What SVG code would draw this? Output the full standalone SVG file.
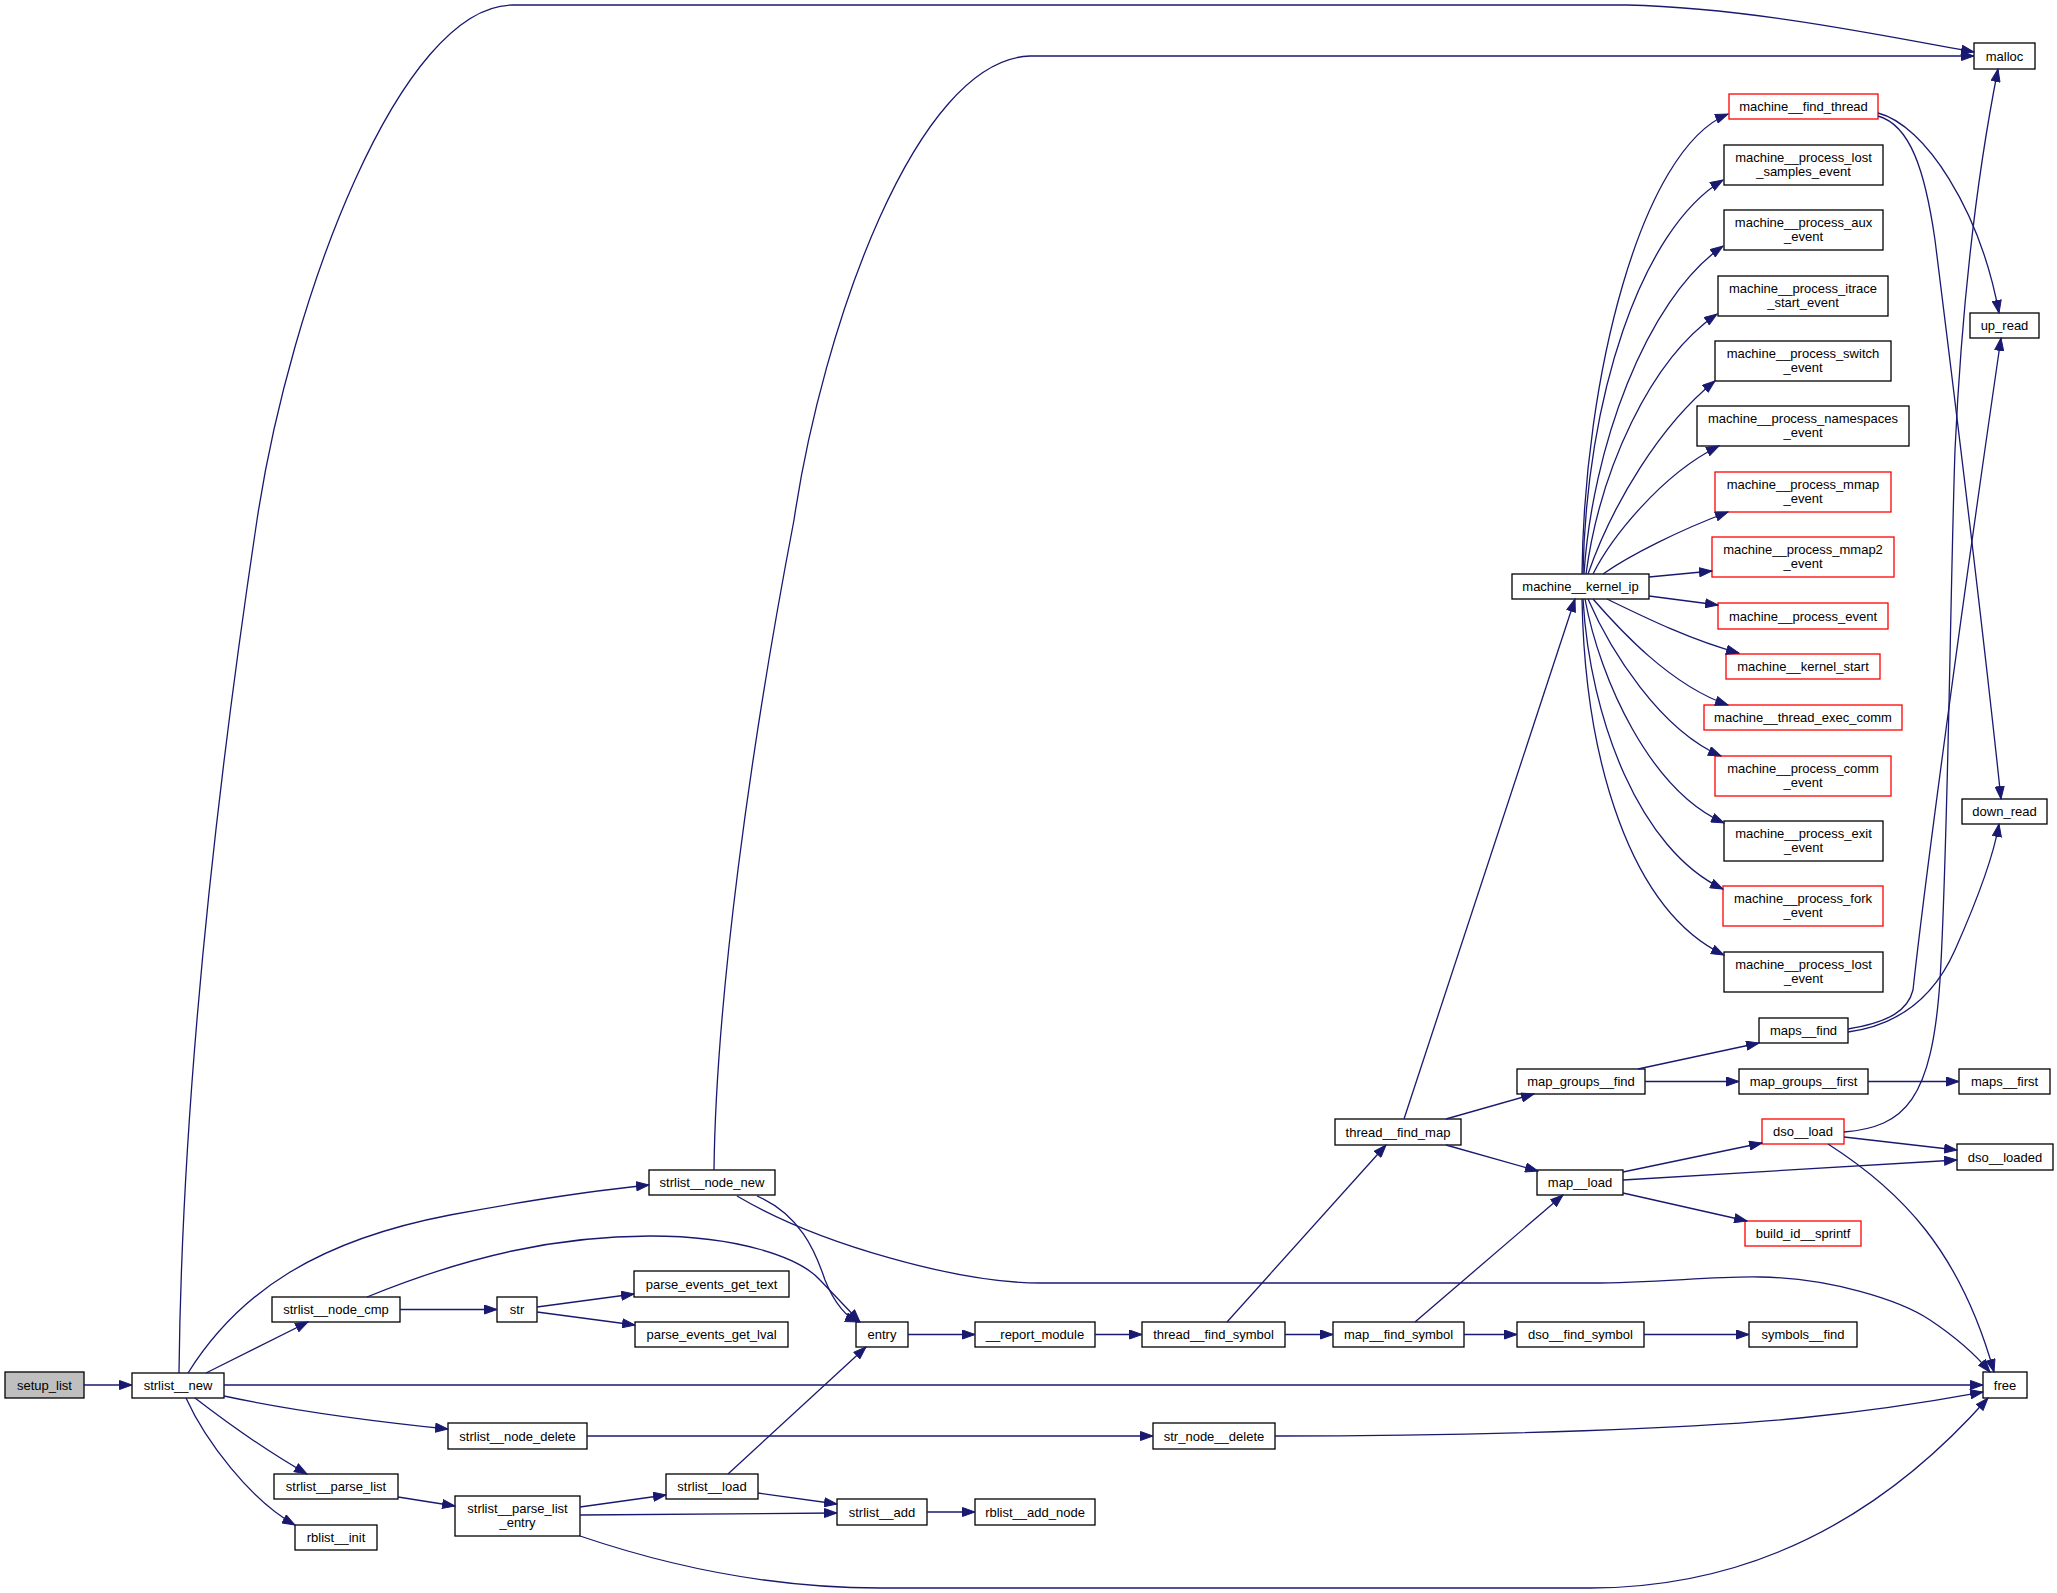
<svg xmlns="http://www.w3.org/2000/svg" width="2057" height="1593" viewBox="0 0 2057 1593">
<defs>
<marker id="a" markerUnits="userSpaceOnUse" markerWidth="14" markerHeight="10" refX="13" refY="5" orient="auto" viewBox="0 0 14 10"><path d="M0.5,0.5 L13,5 L0.5,9.5 z" fill="#191970" stroke="#191970" stroke-width="1"/></marker>
</defs>
<style>
.n rect{fill:#fff;stroke:#000;stroke-width:1.3}
.r rect{fill:#fff;stroke:#ff0000;stroke-width:1.3}
.root rect{fill:#bfbfbf;stroke:#000;stroke-width:1.3}
text{font-family:"Liberation Sans",Arial,Helvetica,sans-serif;font-size:13px;text-anchor:middle;fill:#000}
#edges path{fill:none;stroke:#191970;stroke-width:1.3;marker-end:url(#a)}
</style>
<rect width="2057" height="1593" fill="#fff"/>
<g id="nodes">
<g id="setup_list" class="root"><rect x="5" y="1372" width="79" height="26"/><text x="44.5" y="1389.5">setup_list</text></g>
<g id="strlist__new" class="n"><rect x="132" y="1373" width="92" height="25"/><text x="178" y="1390">strlist__new</text></g>
<g id="strlist__node_new" class="n"><rect x="649" y="1170" width="126" height="25"/><text x="712" y="1187">strlist__node_new</text></g>
<g id="strlist__node_cmp" class="n"><rect x="272" y="1297" width="128" height="25"/><text x="336" y="1314">strlist__node_cmp</text></g>
<g id="str" class="n"><rect x="497" y="1297" width="40" height="25"/><text x="517" y="1314">str</text></g>
<g id="parse_events_get_text" class="n"><rect x="634" y="1271" width="155" height="26"/><text x="711.5" y="1288.5">parse_events_get_text</text></g>
<g id="parse_events_get_lval" class="n"><rect x="635" y="1322" width="153" height="25"/><text x="711.5" y="1339">parse_events_get_lval</text></g>
<g id="entry" class="n"><rect x="856" y="1322" width="52" height="25"/><text x="882" y="1339">entry</text></g>
<g id="__report_module" class="n"><rect x="975" y="1322" width="120" height="25"/><text x="1035" y="1339">__report_module</text></g>
<g id="thread__find_symbol" class="n"><rect x="1142" y="1322" width="143" height="25"/><text x="1213.5" y="1339">thread__find_symbol</text></g>
<g id="map__find_symbol" class="n"><rect x="1333" y="1322" width="131" height="25"/><text x="1398.5" y="1339">map__find_symbol</text></g>
<g id="dso__find_symbol" class="n"><rect x="1517" y="1322" width="127" height="25"/><text x="1580.5" y="1339">dso__find_symbol</text></g>
<g id="symbols__find" class="n"><rect x="1749" y="1322" width="108" height="25"/><text x="1803" y="1339">symbols__find</text></g>
<g id="free" class="n"><rect x="1983" y="1372" width="44" height="26"/><text x="2005" y="1389.5">free</text></g>
<g id="strlist__node_delete" class="n"><rect x="448" y="1423" width="139" height="26"/><text x="517.5" y="1440.5">strlist__node_delete</text></g>
<g id="str_node__delete" class="n"><rect x="1153" y="1423" width="122" height="26"/><text x="1214" y="1440.5">str_node__delete</text></g>
<g id="strlist__parse_list" class="n"><rect x="274" y="1474" width="124" height="25"/><text x="336" y="1491">strlist__parse_list</text></g>
<g id="strlist__parse_list_entry" class="n"><rect x="455" y="1496" width="125" height="40"/><text x="517.5" y="1512.5">strlist__parse_list</text><text x="517.5" y="1527">_entry</text></g>
<g id="strlist__load" class="n"><rect x="666" y="1474" width="92" height="25"/><text x="712" y="1491">strlist__load</text></g>
<g id="strlist__add" class="n"><rect x="837" y="1499" width="90" height="26"/><text x="882" y="1516.5">strlist__add</text></g>
<g id="rblist__add_node" class="n"><rect x="975" y="1499" width="120" height="26"/><text x="1035" y="1516.5">rblist__add_node</text></g>
<g id="rblist__init" class="n"><rect x="295" y="1525" width="82" height="25"/><text x="336" y="1542">rblist__init</text></g>
<g id="thread__find_map" class="n"><rect x="1335" y="1119" width="126" height="26"/><text x="1398" y="1136.5">thread__find_map</text></g>
<g id="map_groups__find" class="n"><rect x="1517" y="1069" width="128" height="25"/><text x="1581" y="1086">map_groups__find</text></g>
<g id="map__load" class="n"><rect x="1537" y="1170" width="86" height="25"/><text x="1580" y="1187">map__load</text></g>
<g id="maps__find" class="n"><rect x="1759" y="1018" width="89" height="25"/><text x="1803.5" y="1035">maps__find</text></g>
<g id="map_groups__first" class="n"><rect x="1739" y="1069" width="129" height="25"/><text x="1803.5" y="1086">map_groups__first</text></g>
<g id="maps__first" class="n"><rect x="1959" y="1069" width="91" height="25"/><text x="2004.5" y="1086">maps__first</text></g>
<g id="dso__load" class="r"><rect x="1762" y="1119" width="82" height="25"/><text x="1803" y="1136">dso__load</text></g>
<g id="dso__loaded" class="n"><rect x="1957" y="1144" width="96" height="26"/><text x="2005" y="1161.5">dso__loaded</text></g>
<g id="build_id__sprintf" class="r"><rect x="1745" y="1221" width="116" height="25"/><text x="1803" y="1238">build_id__sprintf</text></g>
<g id="malloc" class="n"><rect x="1974" y="43" width="61" height="26"/><text x="2004.5" y="60.5">malloc</text></g>
<g id="up_read" class="n"><rect x="1970" y="313" width="69" height="25"/><text x="2004.5" y="330">up_read</text></g>
<g id="down_read" class="n"><rect x="1962" y="799" width="85" height="25"/><text x="2004.5" y="816">down_read</text></g>
<g id="machine__kernel_ip" class="n"><rect x="1512" y="574" width="137" height="25"/><text x="1580.5" y="591">machine__kernel_ip</text></g>
<g id="machine__find_thread" class="r"><rect x="1729" y="94" width="149" height="25"/><text x="1803.5" y="111">machine__find_thread</text></g>
<g id="machine__process_lost_samples_event" class="n"><rect x="1724" y="145" width="159" height="40"/><text x="1803.5" y="161.5">machine__process_lost</text><text x="1803.5" y="176">_samples_event</text></g>
<g id="machine__process_aux_event" class="n"><rect x="1724" y="210" width="159" height="40"/><text x="1803.5" y="226.5">machine__process_aux</text><text x="1803.5" y="241">_event</text></g>
<g id="machine__process_itrace_start_event" class="n"><rect x="1718" y="276" width="170" height="40"/><text x="1803" y="292.5">machine__process_itrace</text><text x="1803" y="307">_start_event</text></g>
<g id="machine__process_switch_event" class="n"><rect x="1715" y="341" width="176" height="40"/><text x="1803" y="357.5">machine__process_switch</text><text x="1803" y="372">_event</text></g>
<g id="machine__process_namespaces_event" class="n"><rect x="1697" y="406" width="212" height="40"/><text x="1803" y="422.5">machine__process_namespaces</text><text x="1803" y="437">_event</text></g>
<g id="machine__process_mmap_event" class="r"><rect x="1715" y="472" width="176" height="40"/><text x="1803" y="488.5">machine__process_mmap</text><text x="1803" y="503">_event</text></g>
<g id="machine__process_mmap2_event" class="r"><rect x="1712" y="537" width="182" height="40"/><text x="1803" y="553.5">machine__process_mmap2</text><text x="1803" y="568">_event</text></g>
<g id="machine__process_event" class="r"><rect x="1718" y="603" width="170" height="26"/><text x="1803" y="620.5">machine__process_event</text></g>
<g id="machine__kernel_start" class="r"><rect x="1726" y="654" width="154" height="25"/><text x="1803" y="671">machine__kernel_start</text></g>
<g id="machine__thread_exec_comm" class="r"><rect x="1704" y="705" width="198" height="25"/><text x="1803" y="722">machine__thread_exec_comm</text></g>
<g id="machine__process_comm_event" class="r"><rect x="1715" y="756" width="176" height="40"/><text x="1803" y="772.5">machine__process_comm</text><text x="1803" y="787">_event</text></g>
<g id="machine__process_exit_event" class="n"><rect x="1724" y="821" width="159" height="40"/><text x="1803.5" y="837.5">machine__process_exit</text><text x="1803.5" y="852">_event</text></g>
<g id="machine__process_fork_event" class="r"><rect x="1723" y="886" width="160" height="40"/><text x="1803" y="902.5">machine__process_fork</text><text x="1803" y="917">_event</text></g>
<g id="machine__process_lost_event" class="n"><rect x="1724" y="952" width="159" height="40"/><text x="1803.5" y="968.5">machine__process_lost</text><text x="1803.5" y="983">_event</text></g>
</g>
<g id="edges">
<path d="M84,1385 L132,1385"/>
<path d="M179,1373 C182,1100 215,800 257,520 C290,300 400,5 513,5 L1627,5 C1750,8 1880,35 1974,52"/>
<path d="M188,1373 C240,1290 320,1240 450,1215 C530,1200 600,1190 649,1185"/>
<path d="M206,1373 L308,1322"/>
<path d="M224,1385 L1983,1385"/>
<path d="M224,1396 C280,1408 360,1420 448,1429"/>
<path d="M195,1398 C230,1425 265,1450 307,1474"/>
<path d="M186,1398 C205,1440 250,1500 295,1525"/>
<path d="M714,1170 C716,1000 750,750 794,520 C822,330 915,60 1030,56 L1974,56"/>
<path d="M757,1196 C800,1215 815,1250 825,1280 C835,1305 848,1318 858,1322"/>
<path d="M737,1196 C820,1245 960,1283 1040,1283 L1590,1283 C1660,1283 1710,1276 1760,1277 C1830,1278 1900,1300 1930,1320 C1960,1340 1980,1360 1990,1372"/>
<path d="M367,1297 C470,1255 560,1236 650,1236 C740,1236 800,1258 820,1280 L860,1322"/>
<path d="M400,1309.5 L497,1309.5"/>
<path d="M537,1307 L634,1294"/>
<path d="M537,1312 L635,1325"/>
<path d="M908,1334.5 L975,1334.5"/>
<path d="M1095,1334.5 L1142,1334.5"/>
<path d="M1227,1322 L1386,1145"/>
<path d="M1285,1334.5 L1333,1334.5"/>
<path d="M1404,1119 L1575,599"/>
<path d="M1446,1119 L1534,1094"/>
<path d="M1446,1145 L1538,1171"/>
<path d="M1415,1322 L1563,1195"/>
<path d="M1464,1334.5 L1517,1334.5"/>
<path d="M1644,1334.5 L1749,1334.5"/>
<path d="M1582,574 C1584,380 1640,150 1728,114"/>
<path d="M1583,574 C1586,400 1640,230 1723,180"/>
<path d="M1584,574 C1592,450 1645,300 1723,246"/>
<path d="M1586,574 C1600,470 1650,360 1717,314"/>
<path d="M1588,574 C1612,505 1660,425 1715,381"/>
<path d="M1593,574 C1610,540 1660,475 1719,446"/>
<path d="M1603,574 C1630,555 1680,530 1728,512"/>
<path d="M1649,577 L1712,571"/>
<path d="M1649,596 L1718,605"/>
<path d="M1607,599 C1640,615 1690,640 1739,653"/>
<path d="M1593,599 C1620,630 1670,685 1728,705"/>
<path d="M1588,599 C1610,650 1660,730 1721,756"/>
<path d="M1585,599 C1600,680 1650,790 1724,823"/>
<path d="M1583,599 C1590,720 1640,850 1723,889"/>
<path d="M1582,599 C1585,760 1630,910 1724,955"/>
<path d="M1878,113 C1925,125 1980,210 1999,313"/>
<path d="M1878,116 C1910,125 1925,170 1935,240 C1955,400 1980,600 2001,799"/>
<path d="M1848,1029 C1890,1022 1908,1010 1913,990 C1925,880 1960,620 2001,338"/>
<path d="M1848,1032 C1900,1025 1935,995 1955,950 C1975,905 1993,860 1999,824"/>
<path d="M1638,1069 L1759,1043"/>
<path d="M1645,1081.5 L1739,1081.5"/>
<path d="M1868,1081.5 L1959,1081.5"/>
<path d="M1623,1172 L1762,1143"/>
<path d="M1623,1180 L1957,1160"/>
<path d="M1623,1193 L1747,1221"/>
<path d="M1844,1132 C1905,1127 1932,1100 1940,980 C1948,850 1950,600 1955,450 C1962,300 1978,170 1998,69"/>
<path d="M1844,1137 L1957,1150"/>
<path d="M1828,1144 C1900,1190 1960,1250 1994,1372"/>
<path d="M587,1436 L1153,1436"/>
<path d="M1275,1436 C1500,1436 1700,1428 1800,1418 C1900,1408 1950,1398 1983,1392"/>
<path d="M398,1497 L455,1506"/>
<path d="M580,1507 L666,1495"/>
<path d="M580,1515 C680,1514 780,1513 837,1513"/>
<path d="M580,1536 C680,1570 780,1588 880,1588 L1590,1588 C1750,1588 1880,1520 1988,1398"/>
<path d="M728,1474 L866,1347"/>
<path d="M758,1493 L837,1504"/>
<path d="M927,1512 L975,1512"/>
</g>
</svg>
